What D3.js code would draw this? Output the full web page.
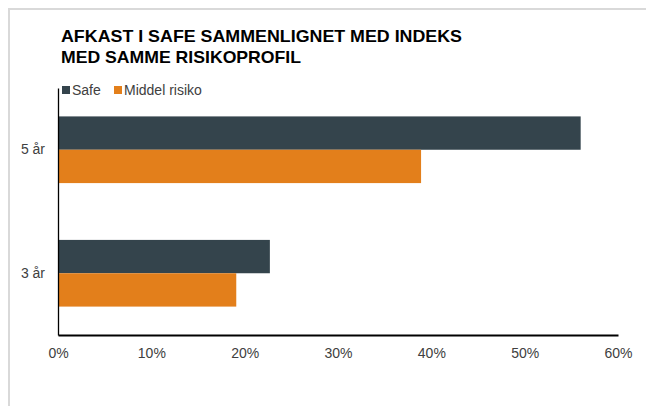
<!DOCTYPE html>
<html>
<head>
<meta charset="utf-8">
<script src="https://cdn.jsdelivr.net/npm/d3@7"></script>
<style>
  body { margin: 0; background: #fff; }
  svg text { font-family: "Liberation Sans", Arial, sans-serif; }
</style>
</head>
<body>
<div id="chartDiv"></div>
<script>
// data
var periods = ['5 år', '3 år'];
var seriesNames = ['Safe', 'Middel risiko'];
var safeValues = [0.56, 0.227];
var middelValues = [0.389, 0.191];
var xTicks = [0, 0.1, 0.2, 0.3, 0.4, 0.5, 0.6];
var titleLines = ['AFKAST I SAFE SAMMENLIGNET MED INDEKS', 'MED SAMME RISIKOPROFIL'];
var colors = ['#34444c', '#e37f1b'];

var w = 646, h = 406;
var padL = 58, padR = 618, padT = 88, padB = 335; //plot edges

var svg = d3.select('#chartDiv')
  .append('svg')
    .attr('width', w)
    .attr('height', h);

// light frame round the chart
svg.append('rect')
  .attr('x', 9).attr('y', 9)
  .attr('width', 700).attr('height', 500)
  .attr('fill', 'none')
  .attr('stroke', '#d9d9d9')
  .attr('stroke-width', 2);

// title
svg.append('g').selectAll('text')
  .data(titleLines)
  .enter().append('text')
    .attr('x', 61)
    .attr('y', function(d, i) { return 42 + i*21; })
    .attr('font-size', '17px')
    .attr('font-weight', 'bold')
    .attr('fill', '#000')
    .attr('textLength', function(d, i) { return i === 0 ? 401 : 240; })
    .attr('lengthAdjust', 'spacingAndGlyphs')
    .text(function(d) { return d; });

// legend
var legendX = [62, 114];
var legend = svg.append('g').selectAll('g')
  .data(seriesNames)
  .enter().append('g')
    .attr('transform', function(d, i) { return 'translate(' + legendX[i] + ',86)'; });
legend.append('rect')
  .attr('width', 8).attr('height', 8)
  .attr('fill', function(d, i) { return colors[i]; });
legend.append('text')
  .attr('x', 10)
  .attr('y', 8.5)
  .attr('font-size', '14px')
  .attr('fill', '#404040')
  .text(function(d) { return d; });

// scales
var xScale = d3.scaleLinear()
  .domain([0, 0.6])
  .range([padL, padR]);

var yScale = d3.scaleBand()
  .domain(periods)
  .range([padT, padB])
  .paddingInner(0.46)
  .paddingOuter(0.23);

var subScale = d3.scaleBand()
  .domain(seriesNames)
  .range([0, yScale.bandwidth()]);

var rows = periods.map(function(p, i) {
  return { period: p, values: [safeValues[i], middelValues[i]] };
});

// bars
var groups = svg.append('g').selectAll('g')
  .data(rows)
  .enter().append('g')
    .attr('transform', function(d) { return 'translate(0,' + yScale(d.period) + ')'; });

groups.selectAll('rect')
  .data(function(d) {
    return d.values.map(function(v, i) { return { name: seriesNames[i], value: v, idx: i }; });
  })
  .enter().append('rect')
    .attr('x', xScale(0))
    .attr('y', function(d) { return subScale(d.name); })
    .attr('width', function(d) { return xScale(d.value) - xScale(0); })
    .attr('height', subScale.bandwidth())
    .attr('fill', function(d) { return colors[d.idx]; });

// x axis
var xAxis = d3.axisBottom(xScale)
  .tickValues(xTicks)
  .tickSize(0)
  .tickPadding(13)
  .tickFormat(d3.format('.0%'));

var gx = svg.append('g')
  .classed('x-axis', true)
  .attr('transform', 'translate(0,' + padB + ')')
  .call(xAxis);
gx.select('.domain').attr('stroke', '#000').attr('stroke-width', 2);
gx.selectAll('text')
  .attr('font-size', '14px')
  .attr('font-family', '"Liberation Sans", Arial, sans-serif')
  .attr('fill', '#404040');

// y axis
var yAxis = d3.axisLeft(yScale)
  .tickSize(0)
  .tickPadding(13);

var gy = svg.append('g')
  .classed('y-axis', true)
  .attr('transform', 'translate(' + padL + ',0)')
  .call(yAxis);
gy.select('.domain').attr('stroke', '#000').attr('stroke-width', 1.3);
gy.selectAll('text')
  .attr('font-size', '14px')
  .attr('font-family', '"Liberation Sans", Arial, sans-serif')
  .attr('fill', '#404040');
</script>
</body>
</html>
